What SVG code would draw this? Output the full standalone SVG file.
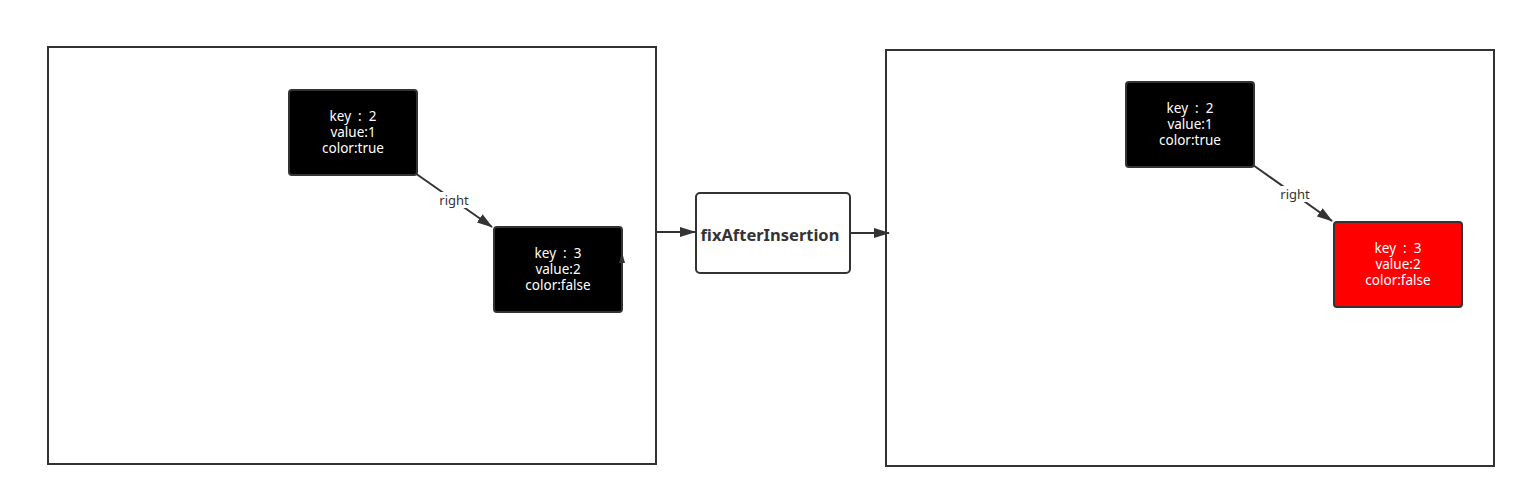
<svg xmlns="http://www.w3.org/2000/svg" width="1526" height="498" viewBox="0 0 1526 498">
<style>
.frame{fill:#fff;stroke:#333;stroke-width:2}
.node{stroke:#333;stroke-width:2}
.blk{fill:#000}
.red{fill:#ff0000}
.t{font-family:"Noto Sans","DejaVu Sans",sans-serif;font-size:13.5px;fill:#fff;text-anchor:middle}
.lbl{font-family:"Noto Sans","DejaVu Sans",sans-serif;font-size:13px;fill:#333;text-anchor:middle}
.conn{stroke:#333;stroke-width:2;fill:none}
.fn{font-family:"Noto Sans","DejaVu Sans",sans-serif;font-size:16.5px;font-weight:bold;fill:#333;text-anchor:middle}
</style>
<defs>
<marker id="ah2" markerWidth="16" markerHeight="10" refX="15" refY="5" orient="auto" markerUnits="userSpaceOnUse" viewBox="0 0 16 10">
<path d="M0,0 L16,5 L0,10 Z" fill="#333"/>
</marker>
</defs>
<rect width="1526" height="498" fill="#fff"/>
<g id="left-frame"><rect class="frame" x="48" y="47" width="608" height="417"/></g>
<g id="right-frame"><rect class="frame" x="886" y="50" width="608" height="416"/></g>
<g id="connectors">
<line class="conn" x1="415" y1="173" x2="492" y2="227" marker-end="url(#ah2)"/>
<rect x="436" y="192" width="38" height="16" fill="#fff"/>
<text class="lbl" x="454" y="205">right</text>
<line class="conn" x1="1253" y1="165" x2="1332" y2="221" marker-end="url(#ah2)"/>
<rect x="1276" y="186" width="38" height="16" fill="#fff"/>
<text class="lbl" x="1295" y="199">right</text>
<line class="conn" x1="656" y1="232" x2="695" y2="232" marker-end="url(#ah2)"/>
<line class="conn" x1="851" y1="233" x2="889" y2="233" marker-end="url(#ah2)"/>
</g>
<g id="l-node-2">
<rect class="node blk" x="289" y="90" width="128" height="85" rx="3"/>
<text class="t" x="353" y="121" xml:space="preserve">key  :  2</text>
<text class="t" x="353" y="137">value:1</text>
<text class="t" x="353" y="153">color:true</text>
</g>
<g id="l-node-3">
<rect class="node blk" x="494" y="227" width="128" height="85" rx="3"/>
<text class="t" x="558" y="258" xml:space="preserve">key  :  3</text>
<text class="t" x="558" y="274">value:2</text>
<text class="t" x="558" y="290">color:false</text>
<path d="M619,263 L622,252 L625,263 Z" fill="#333"/>
</g>
<g id="fix">
<rect x="696" y="193" width="154" height="80" rx="4" fill="#fff" stroke="#333" stroke-width="2"/>
<text class="fn" x="770" y="241">fixAfterInsertion</text>
</g>
<g id="r-node-2">
<rect class="node blk" x="1126" y="82" width="128" height="85" rx="3"/>
<text class="t" x="1190" y="113" xml:space="preserve">key  :  2</text>
<text class="t" x="1190" y="129">value:1</text>
<text class="t" x="1190" y="145">color:true</text>
</g>
<g id="r-node-3">
<rect class="node red" x="1334" y="222" width="128" height="85" rx="3"/>
<text class="t" x="1398" y="253" xml:space="preserve">key  :  3</text>
<text class="t" x="1398" y="269">value:2</text>
<text class="t" x="1398" y="285">color:false</text>
</g>
</svg>
